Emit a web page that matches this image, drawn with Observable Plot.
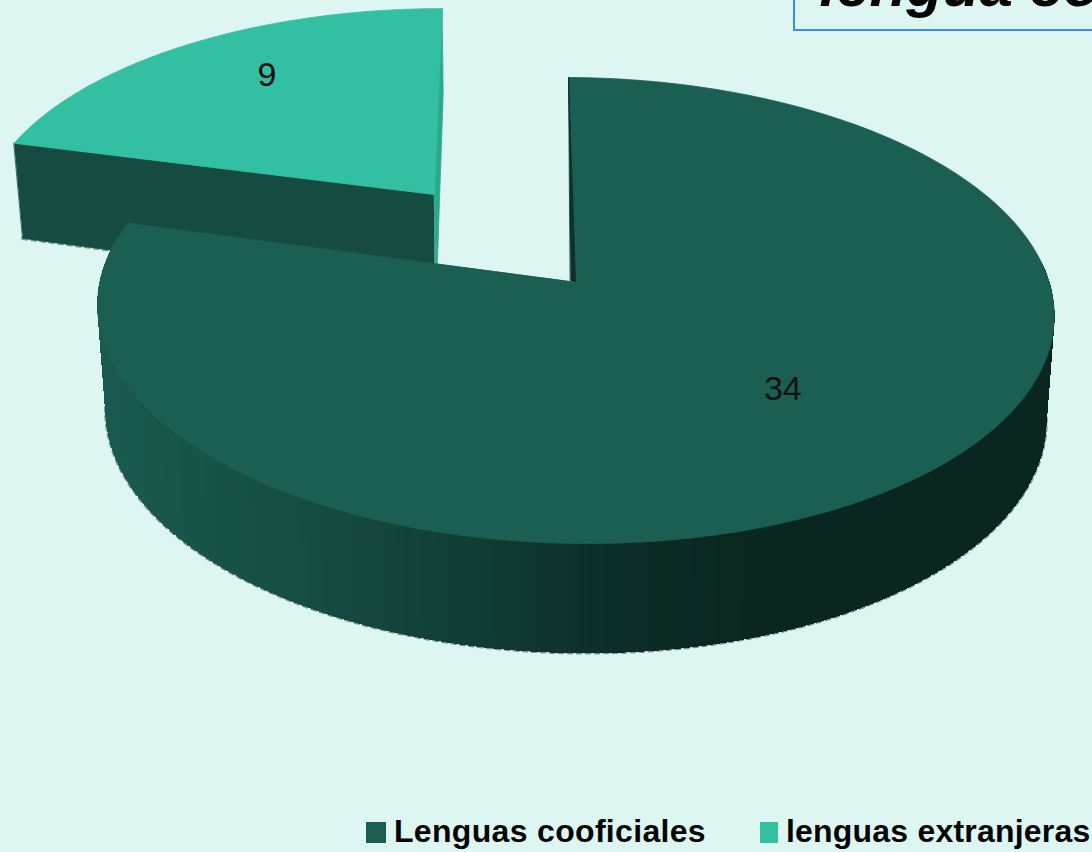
<!DOCTYPE html>
<html>
<head>
<meta charset="utf-8">
<script src="https://cdn.jsdelivr.net/npm/d3@7"></script>
<script src="https://cdn.jsdelivr.net/npm/@observablehq/plot@0.6"></script>
<style>
  html,body{margin:0;padding:0;background:#DDF6F1;overflow:hidden;width:1092px;height:852px}
  #legend{position:relative;height:52px;width:1092px;font-family:"Liberation Sans",Arial,sans-serif;font-weight:bold;font-size:32px;color:#050505;white-space:nowrap}
  #legend span{position:absolute;top:12px;line-height:38px}
  #legend i{position:absolute;top:22px;height:21px;display:block}
</style>
</head>
<body>
<div id="chart"></div>
<div id="legend"></div>
<script>
const categories = ["Lenguas cooficiales", "lenguas extranjeras"];
const values = [34, 9];
const sliceColors = ["#1A5F52", "#33BFA1"];
const titleText = "lengua co";

// view geometry of each (perspective) slice
const big = {ax:574.5, ay:281, rx:474.5, ry:229.4, k:0.1245, sx:-7.3, t:2, apexDx:-2.5,
  lower:(x,y)=>[576.5+(x-576.5)*0.983, 281+(y-281)*1.02+104]};
const small = {ax:433.5, ay:194, rx:450, ry:209, k:0.1245, sx:9, t:0, apexDx:0,
  lower:(x,y)=>[450+(x-450)*0.98, y+99+(y-195)*0.077]};

const project = (g, a, r=1) => {
  const u = r*Math.sin(a), v = r*Math.cos(a), w = 1+g.k*v;
  return [g.ax+(g.rx*u+g.sx*v)/w, g.ay-g.ry*v/w+g.t*u/w];
};
const angles = d3.pie().sort(null).startAngle(0).endAngle(2*Math.PI)(values);
const [bigArc, smallArc] = angles;
const arcPts = (g, a0, a1, n=240) => d3.range(n+1).map(i => project(g, a0+(a1-a0)*i/n));
const apex = g => [g.ax+g.apexDx, g.ay];

const polys = [];
const strips = [];
const toRows = (pts, fill, id) => pts.map(([x,y]) => ({id,x,y,fill}));
const add = (pts, fill) => polys.push(toRows(pts, fill, polys.length));

const sideShade = d3.scaleLinear()
  .domain([100,300,450,600,750,1060])
  .range(["#1a5a4e","#154d42","#113f36","#0c2f28","#0a2621","#0a2621"]);

const under = [];
// small slice: cut face, top, inner wall
{
  const g = small, a0 = smallArc.startAngle, a1 = smallArc.endAngle;
  const c0 = project(g,a0), c1 = project(g,a1), A = apex(g);
  const lt = g.lower(...c1), la = g.lower(...A);
  under.push(toRows([c0, A, g.lower(...A), g.lower(...c0)], "#154B40", 0));
  under.push(toRows([c1, A, [la[0]+2,la[1]], [lt[0]+1,lt[1]]], "#2AA98F", 1));
  under.push(toRows([A, ...arcPts(g,a0,a1,80)], sliceColors[1], 2));
}
// big slice: shaded side strips, top, notch wall
const bigSide = [];
{
  const g = big, a0 = Math.PI*0.47, a1 = bigArc.endAngle, n = 200;
  for (let i=0;i<n;i++){
    const p = project(g,a0+(a1-a0)*i/n), q = project(g,a0+(a1-a0)*(i+1)/n);
    strips.push(toRows([p,q,g.lower(...q),g.lower(...p)], d3.color(sideShade((p[0]+q[0])/2)).formatHex(), i));
    bigSide.push(g.lower(...p));
  }
  add([apex(g), ...arcPts(g,bigArc.startAngle,bigArc.endAngle)], sliceColors[0]);
  const A = apex(g);
  add([project(g,0), [A[0]+3,A[1]], [A[0]-2,A[1]-1]], "#0C302A");
}
const smallEdge = [small.lower(...project(small,smallArc.startAngle)), small.lower(...apex(small))]
  .map(([x,y])=>({x,y}));
const edge = bigSide.map(([x,y])=>({x,y}));

// value labels sit near the slice centres in the projected view
const labelPos = [
  (()=>{const p = project(big, (bigArc.startAngle+bigArc.endAngle)/2-0.09, 0.61); return [p[0]-4,p[1]-2];})(),
  (()=>{const p = project(small, (smallArc.startAngle+smallArc.endAngle)/2+0.03, 0.66); return [p[0]-8,p[1]-15];})()
];
const labels = values.map((v,i)=>({v,x:labelPos[i][0],y:labelPos[i][1]}));

const polyMark = (p, extra={}) => Plot.line(p,{x:"x",y:"y",z:"id",fill:"fill",stroke:"fill",strokeWidth:0.8,curve:"linear-closed",...extra});

const chart = Plot.plot({
  width:1092, height:800, margin:0,
  x:{domain:[0,1092],range:[0,1092],axis:null},
  y:{domain:[0,800],range:[0,800],axis:null},
  color:{type:"identity"},
  style:{background:"#DDF6F1",display:"block"},
  marks:[
    Plot.rect([0],{x1:()=>794,x2:()=>1100,y1:()=>-10,y2:()=>30,fill:"none",stroke:"#3B8DE0",strokeWidth:2}),
    Plot.text([titleText],{x:()=>819,y:()=>5,text:d=>d,textAnchor:"start",lineAnchor:"bottom",fontFamily:"'Liberation Sans',Arial,sans-serif",fontWeight:"bold",fontStyle:"italic",fontSize:60,fill:"#050505"}),
    Plot.line(edge,{x:"x",y:"y",stroke:"#6f7f7b",strokeWidth:3.5,strokeDasharray:"4 5",strokeOpacity:0.85}),
    Plot.line(smallEdge,{x:"x",y:"y",stroke:"#6f7f7b",strokeWidth:3.5,strokeDasharray:"4 5",strokeOpacity:0.85}),
    ...under.map(p => polyMark(p)),
    ...strips.map(p => polyMark(p,{strokeWidth:1,shapeRendering:"crispEdges"})),
    ...polys.map(p => polyMark(p)),
    Plot.text(labels,{x:"x",y:"y",text:d=>String(d.v),fontFamily:"'Liberation Sans',Arial,sans-serif",fontSize:34,fill:"#111"})
  ]
});
document.getElementById("chart").appendChild(chart);

const legendX = [[366,20,394,0.32],[760,18,786,0.2]];
const lg = document.getElementById("legend");
categories.forEach((c,i)=>{
  const sw = document.createElement("i");
  sw.style.left = legendX[i][0]+"px"; sw.style.width = legendX[i][1]+"px"; sw.style.background = sliceColors[i];
  lg.appendChild(sw);
  const t = document.createElement("span");
  t.style.left = legendX[i][2]+"px"; t.style.letterSpacing = legendX[i][3]+"px"; t.textContent = c;
  lg.appendChild(t);
});
</script>
</body>
</html>
